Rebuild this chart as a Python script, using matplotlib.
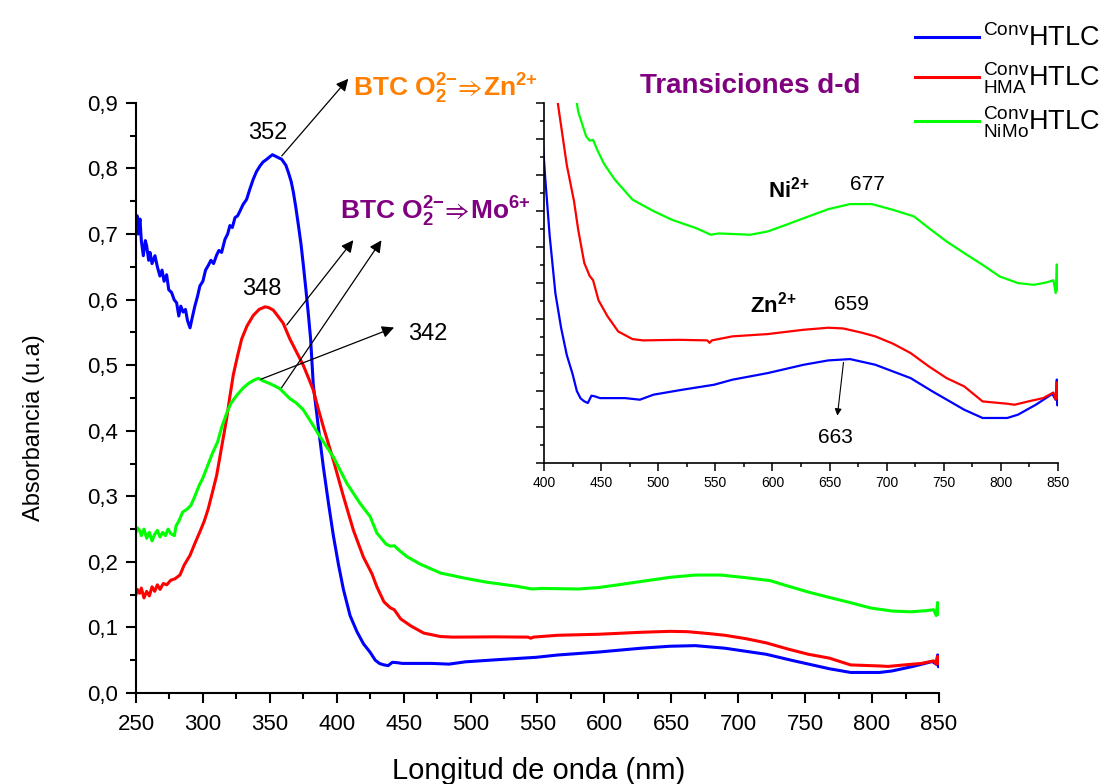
import matplotlib
matplotlib.use('Agg')
import matplotlib.pyplot as plt
from matplotlib.ticker import MultipleLocator, FuncFormatter, NullFormatter

plt.rcParams['font.family'] = ['Liberation Sans', 'DejaVu Sans']
plt.rcParams['mathtext.default'] = 'regular'

# ---------------- data ----------------
blue_x = [250, 250.8, 251.7, 253, 254, 255.5, 257, 258, 259.5, 260.5, 262, 264.2, 266, 267.9, 269.5, 271,
          272.9, 274.5, 276.6, 278.5, 280.4, 282, 283.5, 285.3, 287, 288.5, 290.4, 292, 294, 296, 297.8, 300,
          302, 304, 306, 308, 310.3, 312, 314, 316.5, 318.5, 320.2, 322, 324, 326, 327.7, 330, 332.7, 335,
          337.7, 340, 342.7, 345, 347.7, 350, 352, 355, 358.9, 362, 363.9, 366, 367.6, 369.5, 371.4, 373.3,
          375.1, 377, 378.8, 380.5, 382.5, 386.3, 390, 393.8, 397.5, 401.3, 405, 410, 415, 420, 425, 428.8,
          432, 435, 438.4, 441.6, 444.7, 449, 471, 484, 496, 521, 549, 565, 596, 627.5, 649, 668, 690, 721,
          740, 768, 784, 805.6, 815, 830.6, 845, 848, 849, 849.6, 850]
blue_y = [0.705, 0.728, 0.700, 0.723, 0.690, 0.667, 0.690, 0.682, 0.660, 0.672, 0.655, 0.667, 0.650, 0.636,
          0.645, 0.628, 0.638, 0.615, 0.611, 0.600, 0.595, 0.575, 0.590, 0.581, 0.585, 0.568, 0.557, 0.572,
          0.590, 0.605, 0.621, 0.628, 0.645, 0.652, 0.660, 0.655, 0.668, 0.675, 0.672, 0.692, 0.700, 0.713,
          0.710, 0.725, 0.728, 0.735, 0.745, 0.753, 0.768, 0.784, 0.795, 0.804, 0.810, 0.814, 0.818, 0.821,
          0.818, 0.814, 0.805, 0.794, 0.780, 0.764, 0.740, 0.713, 0.685, 0.652, 0.615, 0.578, 0.540, 0.470,
          0.405, 0.345, 0.290, 0.240, 0.196, 0.158, 0.118, 0.094, 0.075, 0.062, 0.050, 0.045, 0.043, 0.0417,
          0.0468, 0.0463, 0.0451, 0.0451, 0.044, 0.0475, 0.0509, 0.0544, 0.0579, 0.0625, 0.0683, 0.0713,
          0.0722, 0.0683, 0.059, 0.0498, 0.037, 0.0313, 0.0313, 0.0336, 0.0405, 0.048, 0.044, 0.058, 0.040,
          0.052]

red_x = [250, 251, 252.7, 254, 256, 258, 260, 262, 264, 266, 268, 270.4, 273, 276, 279, 282.9, 286, 290.4,
         294, 297.8, 301, 304, 307, 310.3, 314, 317.8, 320, 322.7, 326, 329, 333, 337.7, 342, 346.4, 349,
         352.6, 356, 360, 365, 370, 375, 380, 382.5, 386, 390, 397.5, 405, 412.5, 420, 426.3, 430, 435.3,
         440, 443, 447.8, 455.6, 465, 477.5, 486.9, 518, 543, 545, 547, 565, 596, 627.5, 649, 662, 677.5,
         690, 705.6, 721, 737, 752.5, 768, 784, 805.6, 812, 824, 837, 846, 848, 849, 849.6, 850]
red_y = [0.150, 0.158, 0.152, 0.160, 0.145, 0.155, 0.148, 0.162, 0.155, 0.165, 0.158, 0.167, 0.165, 0.172,
         0.174, 0.180, 0.195, 0.210, 0.228, 0.246, 0.262, 0.281, 0.305, 0.332, 0.375, 0.419, 0.450, 0.485,
         0.515, 0.540, 0.560, 0.576, 0.585, 0.589, 0.588, 0.584, 0.575, 0.564, 0.540, 0.520, 0.500, 0.475,
         0.462, 0.435, 0.406, 0.355, 0.300, 0.248, 0.207, 0.182, 0.162, 0.139, 0.130, 0.127, 0.113, 0.102,
         0.0914, 0.0861, 0.0852, 0.0856, 0.0852, 0.0835, 0.0852, 0.088, 0.0896, 0.0926, 0.094, 0.0935,
         0.0907, 0.088, 0.0829, 0.0764, 0.0671, 0.059, 0.0532, 0.0428, 0.0412, 0.0405, 0.0428, 0.0451,
         0.049, 0.044, 0.056, 0.045, 0.052]

green_x = [250, 251, 252.7, 254, 256, 258, 260, 262, 264, 266, 268, 270, 272, 274, 276, 278.7, 280, 282,
           284.9, 288, 291, 294, 297.3, 300, 303.6, 307, 311, 314, 318, 321, 325.3, 330, 334, 338, 341.4,
           345, 350, 354, 357.6, 362, 365, 370, 375, 380, 387.5, 397.5, 407.5, 417.5, 425, 430, 436.9, 440,
           443, 447, 452.5, 461.9, 477.5, 496, 512, 533.8, 546, 553, 580.6, 596, 612, 627.5, 649, 668, 687,
           705.6, 724, 737, 752.5, 768, 784, 799, 815, 829, 840, 846, 848, 849, 849.6, 850]
green_y = [0.245, 0.252, 0.248, 0.240, 0.250, 0.236, 0.245, 0.232, 0.242, 0.248, 0.238, 0.245, 0.240, 0.250,
           0.243, 0.240, 0.255, 0.262, 0.276, 0.280, 0.286, 0.300, 0.317, 0.328, 0.347, 0.365, 0.383, 0.405,
           0.428, 0.442, 0.454, 0.465, 0.472, 0.477, 0.480, 0.476, 0.472, 0.468, 0.464, 0.455, 0.449, 0.442,
           0.432, 0.416, 0.391, 0.360, 0.320, 0.289, 0.269, 0.244, 0.227, 0.224, 0.2245, 0.217, 0.208, 0.197,
           0.183, 0.175, 0.169, 0.163, 0.1586, 0.1595, 0.1586, 0.1609, 0.1655, 0.1701, 0.1764, 0.1799, 0.1799,
           0.1759, 0.1713, 0.1632, 0.1539, 0.1458, 0.1377, 0.1296, 0.125, 0.1238, 0.1255, 0.127, 0.118, 0.138,
           0.120, 0.130]

series_labels = [r'$^{Conv}$HTLC', r'$^{Conv}_{HMA}$HTLC', r'$^{Conv}_{NiMo}$HTLC']
series_colors = ['#0000FF', '#FF0000', '#00FF00']

x_ticks_main = list(range(250, 851, 50))
x_ticks_inset = list(range(400, 851, 50))

# ---------------- figure ----------------
fig = plt.figure(figsize=(11, 7.84), dpi=100)
ax = fig.add_axes([0.1236, 0.1161, 0.730, 0.7526])

series = [(blue_x, blue_y), (red_x, red_y), (green_x, green_y)]
handles = []
for (xs, ys), c, lab in zip(series, series_colors, series_labels):
    h, = ax.plot(xs, ys, color=c, lw=2.2, label=lab)
    handles.append(h)

ax.set_xlim(250, 850)
ax.set_ylim(0, 0.9)
for s in ['top', 'right']:
    ax.spines[s].set_visible(False)
for s in ['left', 'bottom']:
    ax.spines[s].set_linewidth(1.5)
ax.set_xticks(x_ticks_main)
ax.xaxis.set_minor_locator(MultipleLocator(25))
ax.yaxis.set_major_locator(MultipleLocator(0.1))
ax.yaxis.set_minor_locator(MultipleLocator(0.05))
ax.yaxis.set_major_formatter(FuncFormatter(lambda v, p: f'{v:.1f}'.replace('.', ',')))
ax.tick_params(which='major', direction='out', length=7, width=1.5, labelsize=16)
ax.tick_params(axis='x', which='major', pad=8)
ax.tick_params(axis='y', which='major', pad=6)
ax.tick_params(which='minor', direction='out', length=4, width=1.5)
ax.set_xlabel('Longitud de onda (nm)', fontsize=21)
ax.set_ylabel('Absorbancia (u.a)', fontsize=17)
ax.xaxis.set_label_coords(0.502, -0.108)
ax.yaxis.set_label_coords(-0.113, 0.449)

# annotations in main axes
arrow_kw = dict(arrowstyle='-|>', color='black', lw=0.9, mutation_scale=18)
ax.annotate('', xy=(410, 0.94), xytext=(357.6, 0.816), arrowprops=arrow_kw, annotation_clip=False)
ax.annotate('', xy=(413.7, 0.694), xytext=(361.4, 0.558), arrowprops=arrow_kw, annotation_clip=False)
ax.annotate('', xy=(434.6, 0.694), xytext=(357.6, 0.462), arrowprops=arrow_kw, annotation_clip=False)
ax.annotate('', xy=(444.8, 0.559), xytext=(341.4, 0.477), arrowprops=arrow_kw, annotation_clip=False)

ax.text(348.7, 0.845, '352', fontsize=17, ha='center', va='baseline')
ax.text(344.2, 0.607, '348', fontsize=17, ha='center', va='baseline')
ax.text(468.2, 0.538, '342', fontsize=17, ha='center', va='baseline')
ax.text(412, 0.909, r'BTC O$_2^{2{-}}\!\Rightarrow\!$Zn$^{2{+}}$', fontsize=19, color='#FF8000',
        fontweight='bold', ha='left', va='baseline', clip_on=False)
ax.text(402.5, 0.7215, r'BTC O$_2^{2{-}}\!\Rightarrow\!$Mo$^{6{+}}$', fontsize=19, color='#800080',
        fontweight='bold', ha='left', va='baseline', clip_on=False)
ax.text(626.7, 0.915, 'Transiciones d-d', fontsize=20, color='#800080', fontweight='bold',
        ha='left', va='baseline', clip_on=False)

# ---------------- inset ----------------
axin = fig.add_axes([0.4945, 0.4094, 0.4673, 0.459])
axin.patch.set_alpha(0)
for (xs, ys), c in zip(series, series_colors):
    axin.plot(xs, ys, color=c, lw=1.6)
axin.set_xlim(400, 850)
axin.set_ylim(0, 0.25)
for s in ['top', 'right']:
    axin.spines[s].set_visible(False)
for s in ['left', 'bottom']:
    axin.spines[s].set_linewidth(1.2)
axin.set_xticks(x_ticks_inset)
axin.xaxis.set_minor_locator(MultipleLocator(25))
axin.yaxis.set_major_locator(MultipleLocator(0.025))
axin.yaxis.set_minor_locator(MultipleLocator(0.0125))
axin.yaxis.set_major_formatter(NullFormatter())
axin.tick_params(which='major', direction='out', length=5.5, width=1.1, labelsize=10)
axin.tick_params(which='minor', direction='out', length=3, width=1.1)

axin.text(596, 0.1847, r'Ni$^{2{+}}$', fontsize=16, fontweight='bold', ha='left', va='baseline')
axin.text(668, 0.1896, '677', fontsize=15, ha='left', va='baseline')
axin.text(580.4, 0.1049, r'Zn$^{2{+}}$', fontsize=16, fontweight='bold', ha='left', va='baseline')
axin.text(654, 0.106, '659', fontsize=15, ha='left', va='baseline')
axin.text(640, 0.0139, '663', fontsize=15, ha='left', va='baseline')
axin.annotate('', xy=(656.6, 0.031), xytext=(662.5, 0.0718),
              arrowprops=dict(arrowstyle='-|>', color='black', lw=0.8, mutation_scale=10))

# ---------------- legend ----------------
fig.legend(handles, series_labels, loc='upper right', bbox_to_anchor=(1.012, 0.986), frameon=False,
           fontsize=19.5, handlelength=2.33, handletextpad=0.15, labelspacing=0.32, borderaxespad=0.1)

fig.savefig('out.png', dpi=100)
